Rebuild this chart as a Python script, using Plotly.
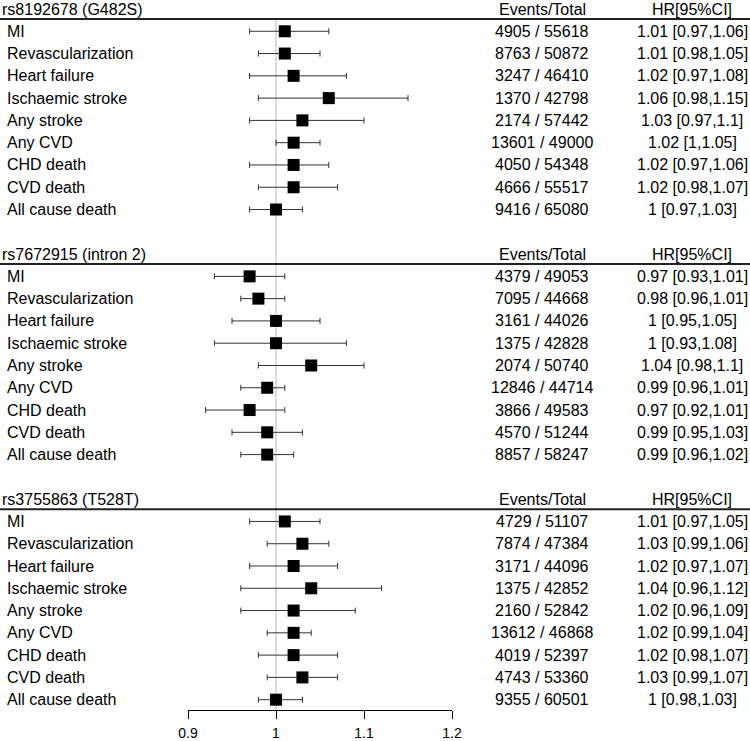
import plotly.graph_objects as go

# Forest plot data: three SNPs, nine outcomes each
snps = ["rs8192678 (G482S)", "rs7672915 (intron 2)", "rs3755863 (T528T)"]
outcomes = ["MI", "Revascularization", "Heart failure", "Ischaemic stroke", "Any stroke",
            "Any CVD", "CHD death", "CVD death", "All cause death"]

events = [
    [4905, 8763, 3247, 1370, 2174, 13601, 4050, 4666, 9416],
    [4379, 7095, 3161, 1375, 2074, 12846, 3866, 4570, 8857],
    [4729, 7874, 3171, 1375, 2160, 13612, 4019, 4743, 9355],
]
totals = [
    [55618, 50872, 46410, 42798, 57442, 49000, 54348, 55517, 65080],
    [49053, 44668, 44026, 42828, 50740, 44714, 49583, 51244, 58247],
    [51107, 47384, 44096, 42852, 52842, 46868, 52397, 53360, 60501],
]
hr = [
    [1.01, 1.01, 1.02, 1.06, 1.03, 1.02, 1.02, 1.02, 1.00],
    [0.97, 0.98, 1.00, 1.00, 1.04, 0.99, 0.97, 0.99, 0.99],
    [1.01, 1.03, 1.02, 1.04, 1.02, 1.02, 1.02, 1.03, 1.00],
]
lo = [
    [0.97, 0.98, 0.97, 0.98, 0.97, 1.00, 0.97, 0.98, 0.97],
    [0.93, 0.96, 0.95, 0.93, 0.98, 0.96, 0.92, 0.95, 0.96],
    [0.97, 0.99, 0.97, 0.96, 0.96, 0.99, 0.98, 0.99, 0.98],
]
hi = [
    [1.06, 1.05, 1.08, 1.15, 1.10, 1.05, 1.06, 1.07, 1.03],
    [1.01, 1.01, 1.05, 1.08, 1.10, 1.01, 1.01, 1.03, 1.02],
    [1.05, 1.06, 1.07, 1.12, 1.09, 1.04, 1.07, 1.07, 1.03],
]
tick_vals = [0.9, 1.0, 1.1, 1.2]
tick_text = ["0.9", "1", "1.1", "1.2"]

FONT = "Arial, Liberation Sans, sans-serif"
W, H = 750, 741
# annotation boxes carry ~2px of padding, hence the small offsets
x_label, x_head, x_events, x_hr = 5 / W, 0, 542 / W, 692 / W

fig = go.Figure()
annotations = []
shapes = []

for s, snp in enumerate(snps):
    head_row = s * 11
    rows = [head_row + 1 + i for i in range(len(outcomes))]

    # section header + column titles
    annotations.append(dict(x=x_head, y=head_row, text=snp, xanchor="left"))
    annotations.append(dict(x=x_events, y=head_row, text="Events/Total", xanchor="center"))
    annotations.append(dict(x=x_hr, y=head_row, text="HR[95%CI]", xanchor="center"))
    shapes.append(dict(type="line", xref="paper", yref="y", x0=0, x1=1,
                       y0=head_row + 0.45, y1=head_row + 0.45,
                       line=dict(color="#222", width=2)))

    for i, name in enumerate(outcomes):
        annotations.append(dict(x=x_label, y=rows[i], text=name, xanchor="left"))
        annotations.append(dict(x=x_events, y=rows[i],
                                text=f"{events[s][i]} / {totals[s][i]}", xanchor="center"))
        annotations.append(dict(x=x_hr, y=rows[i],
                                text=f"{hr[s][i]:g} [{lo[s][i]:g},{hi[s][i]:g}]", xanchor="center"))

    fig.add_trace(go.Scatter(
        x=hr[s], y=rows, mode="markers",
        marker=dict(symbol="square", size=12, color="black"),
        error_x=dict(type="data", symmetric=False,
                     array=[h - m for h, m in zip(hi[s], hr[s])],
                     arrayminus=[m - l for m, l in zip(hr[s], lo[s])],
                     color="#333", thickness=1, width=3),
        showlegend=False, hoverinfo="skip", cliponaxis=False,
    ))

# null line at HR = 1
shapes.append(dict(type="line", xref="x", yref="y", x0=1, x1=1, y0=0.45, y1=31.5,
                   line=dict(color="#dcdcdc", width=2), layer="below"))

for a in annotations:
    a.update(xref="paper", yref="y", yanchor="middle", showarrow=False,
             font=dict(family=FONT, size=16, color="black"))

fig.update_layout(
    width=W, height=H,
    margin=dict(l=0, r=0, t=0, b=0),
    plot_bgcolor="white", paper_bgcolor="white",
    annotations=annotations, shapes=shapes,
    xaxis=dict(domain=[188 / W, 452 / W], range=[0.9, 1.2],
               anchor="free", position=1 - 710 / H,
               showline=True, linecolor="black", linewidth=1,
               ticks="outside", ticklen=8, tickcolor="black", tickwidth=1,
               tickvals=tick_vals, ticktext=tick_text, ticklabelstandoff=2,
               tickfont=dict(family=FONT, size=14, color="black"),
               showgrid=False, zeroline=False, automargin=False),
    yaxis=dict(range=[(H - 9) / 22.28, -9 / 22.28], visible=False,
               showgrid=False, zeroline=False),
)

# drop the default page margin so the figure sits at the window corner
fig.write_html("out.html", config={"displayModeBar": False},
               post_script="document.body.style.margin='0';document.body.style.overflow='hidden';")
